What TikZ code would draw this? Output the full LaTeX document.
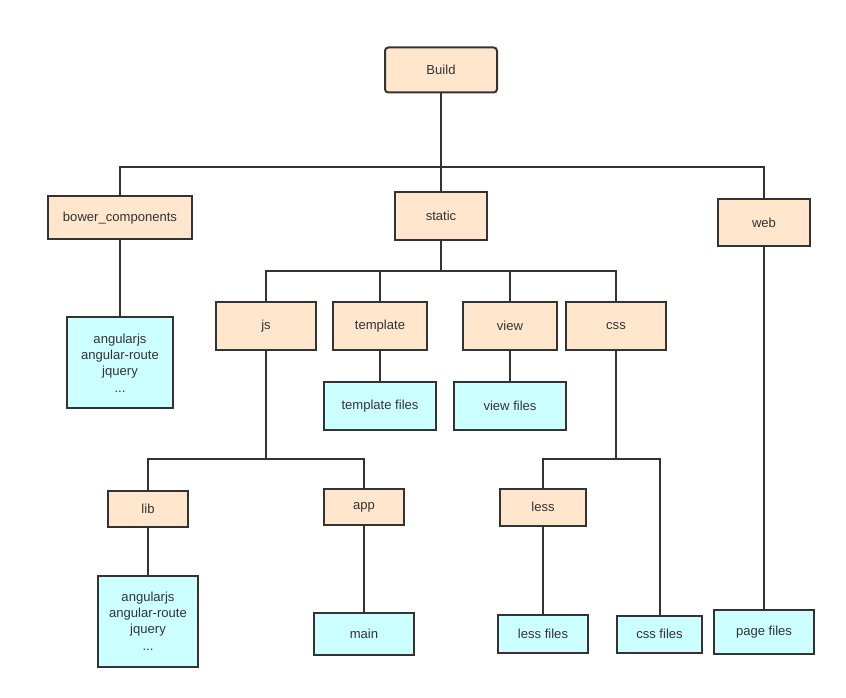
\documentclass[tikz,border=0pt]{standalone}
\usepackage{fontspec}
\setmainfont{Liberation Sans}
\usepackage{xcolor}
\usepackage{tikz}
\usetikzlibrary{calc}
\definecolor{dirfill}{HTML}{FFE6CC}
\definecolor{filefill}{HTML}{CCFFFF}
\definecolor{edgegray}{HTML}{333333}
\tikzset{
  dir/.style   ={rectangle, draw=edgegray, line width=1.5pt, fill=dirfill,
                 align=center, text=edgegray, inner sep=2pt},
  files/.style ={rectangle, draw=edgegray, line width=1.5pt, fill=filefill,
                 align=center, text=edgegray, inner sep=2pt},
  link/.style  ={draw=edgegray, line width=1.5pt}
}

\begin{document}
\begin{tikzpicture}[x=0.75pt, y=-0.75pt,
  every node/.style={font=\fontsize{9.8}{12.2}\selectfont}]
\useasboundingbox (0,0) rectangle (846,698);

% Top level
\node[dir, rounded corners=2.5pt, minimum width=84pt, minimum height=33.75pt]
      (build) at (441,70) {Build};
\node[dir, minimum width=108pt, minimum height=32.25pt] (bower)  at (120,218) {bower\_components};
\node[dir, minimum width=69pt,  minimum height=36pt]    (static) at (441,216) {static};
\node[dir, minimum width=69pt,  minimum height=35.25pt] (web)    at (764,223) {web};

% static children
\node[dir, minimum width=75pt,   minimum height=36pt] (js)       at (266,326) {js};
\node[dir, minimum width=70.5pt, minimum height=36pt] (template) at (380,326) {template};
\node[dir, minimum width=70.5pt, minimum height=36pt] (view)     at (510,326) {view};
\node[dir, minimum width=75pt,   minimum height=36pt] (css)      at (616,326) {css};

% js / css children
\node[dir, minimum width=60pt, minimum height=27pt]    (lib)  at (148,509) {lib};
\node[dir, minimum width=60pt, minimum height=27pt]    (app)  at (364,507) {app};
\node[dir, minimum width=64pt, minimum height=27.75pt] (less) at (543,507) {less};

% Leaf files
\node[files, minimum width=79.5pt, minimum height=68.25pt] (bowerfiles) at (120,363)
      {angularjs\\angular-route\\jquery\\...};
\node[files, minimum width=84pt, minimum height=36pt] (templatefiles) at (380,406) {template files};
\node[files, minimum width=84pt, minimum height=36pt] (viewfiles)     at (510,406) {view files};
\node[files, minimum width=75pt, minimum height=68.25pt] (libfiles) at (148,621)
      {angularjs\\angular-route\\jquery\\...};
\node[files, minimum width=75pt, minimum height=32pt]    (main)      at (364,634) {main};
\node[files, minimum width=68pt, minimum height=28.5pt]  (lessfiles) at (543,634) {less files};
\node[files, minimum width=64pt, minimum height=27.75pt] (cssfiles)  at (659.5,634) {css files};
\node[files, minimum width=75pt, minimum height=32.5pt]  (pagefiles) at (764,632) {page files};

% Bus levels
\coordinate (bus1) at (441,167);
\coordinate (bus2) at (441,271);
\coordinate (bus3) at (266,459);
\coordinate (bus4) at (616,459);

% Build -> top level
\draw[link] (build.south) -- (bus1);
\draw[link] (bower.north) -- (bower.north |- bus1) -- (web.north |- bus1) -- (web.north);
\draw[link] (static.north) -- (bus1);

% static -> children
\draw[link] (static.south) -- (bus2);
\draw[link] (js.north) -- (js.north |- bus2) -- (css.north |- bus2) -- (css.north);
\foreach \n in {template, view}{
  \draw[link] (\n.north) -- (\n.north |- bus2);
}

% js -> lib, app
\draw[link] (js.south) -- (bus3);
\draw[link] (lib.north) -- (lib.north |- bus3) -- (app.north |- bus3) -- (app.north);

% css -> less, css files
\draw[link] (css.south) -- (bus4);
\draw[link] (less.north) -- (less.north |- bus4) -- (cssfiles.north |- bus4) -- (cssfiles.north);

% Straight down to files
\foreach \p/\c in {bower/bowerfiles, template/templatefiles, view/viewfiles,
                   lib/libfiles, app/main, less/lessfiles, web/pagefiles}{
  \draw[link] (\p.south) -- (\c.north);
}
\end{tikzpicture}
\end{document}
